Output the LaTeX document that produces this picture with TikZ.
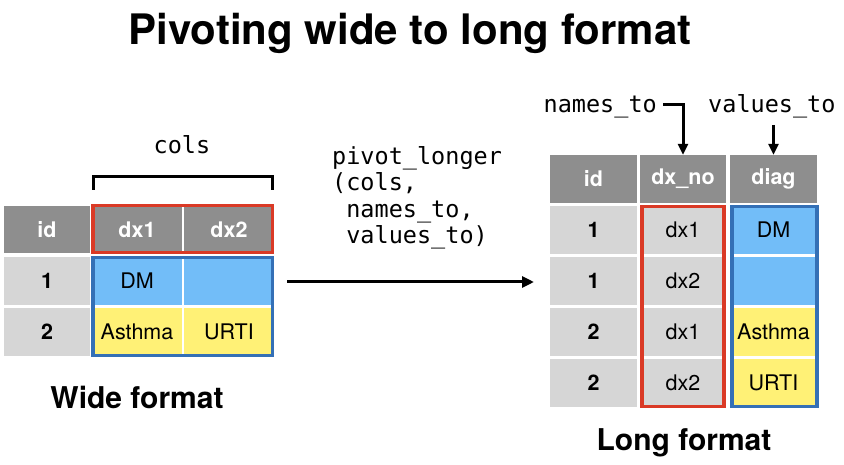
\documentclass[tikz,border=0pt]{standalone}
\usepackage{fontspec}
\setmainfont{TeX Gyre Heros}
\newfontfamily\monofam{DejaVu Sans Mono}
\usetikzlibrary{arrows.meta}
\definecolor{hdrgray}{RGB}{142,142,142}
\definecolor{ltgray}{RGB}{214,214,214}
\definecolor{cellblue}{RGB}{114,189,248}
\definecolor{cellyellow}{RGB}{255,241,118}
\definecolor{bordred}{RGB}{218,58,38}
\definecolor{bordblue}{RGB}{52,112,182}
\tikzset{
  cell/.style={inner sep=0pt, minimum height=48pt, font=\fontsize{21.5}{24}\selectfont},
  hcell/.style={cell, fill=hdrgray, text=white, font=\bfseries\fontsize{21.5}{24}\selectfont, minimum height=47pt},
  idcell/.style={cell, fill=ltgray, font=\bfseries\fontsize{21.5}{24}\selectfont},
  gcell/.style={cell, fill=ltgray},
  bcell/.style={cell, fill=cellblue},
  ycell/.style={cell, fill=cellyellow},
  monotext/.style={inner sep=0pt, font=\monofam\fontsize{23.5}{26.5}\selectfont},
  redframe/.style={draw=bordred, line width=3.6pt},
  blueframe/.style={draw=bordblue, line width=3.6pt},
  conn/.style={line width=3pt, -{Triangle[length=11pt,width=10pt]}},
  caption/.style={inner sep=0pt, font=\bfseries\fontsize{30}{33}\selectfont}
}
\begin{document}
\begin{tikzpicture}[x=1pt,y=-1pt]
\useasboundingbox (0,0) rectangle (844,465);
% title
\node[inner sep=0pt, font=\bfseries\fontsize{42}{46}\selectfont] (title) at (410,33) {Pivoting wide to long format};
% ---------- wide table ----------
\node[hcell, minimum width=86pt] (wh0) at (47,229.5) {id};
\node[hcell, minimum width=90pt] (wh1) at (137,229.5) {dx1};
\node[hcell, minimum width=90pt] (wh2) at (229,229.5) {dx2};
\node[idcell, minimum width=86pt] (wa0) at (47,281) {1};
\node[bcell, minimum width=90pt] (wa1) at (137,281) {DM};
\node[bcell, minimum width=90pt] (wa2) at (229,281) {};
\node[idcell, minimum width=86pt] (wb0) at (47,332) {2};
\node[ycell, minimum width=90pt] (wb1) at (137,332) {Asthma};
\node[ycell, minimum width=90pt] (wb2) at (229,332) {URTI};
\draw[redframe] (93,205.5) rectangle (272.5,252.5);
\draw[blueframe] (93,257.5) rectangle (272.5,355.5);
% cols bracket
\node[monotext] (cols) at (182,145) {cols};
\coordinate (bl) at (93,190);
\coordinate (br) at (272,190);
\draw[line width=3pt] (bl) -- ++(0,-13) -| (br);
\node[caption] (wide) at (137,397) {Wide format};
% ---------- middle ----------
\node[monotext, align=left, anchor=north west] (fn) at (332,146)
  {pivot\_longer\\(cols,\\\phantom{(}names\_to,\\\phantom{(}values\_to)};
\coordinate (arrS) at (287,282);
\coordinate (arrE) at (534,282);
\draw[line width=3pt, -{Triangle[length=12pt,width=11pt]}] (arrS) -- (arrE);
% ---------- long table ----------
\node[hcell, minimum width=87pt, minimum height=48pt] (lh0) at (593.5,179) {id};
\node[hcell, minimum width=86pt, minimum height=48pt] (lh1) at (683,179) {dx\_no};
\node[hcell, minimum width=87pt, minimum height=48pt] (lh2) at (773.5,179) {diag};
\node[idcell, minimum width=87pt] (l10) at (593.5,230) {1};
\node[gcell, minimum width=86pt] (l11) at (683,230) {dx1};
\node[bcell, minimum width=87pt] (l12) at (773.5,230) {DM};
\node[idcell, minimum width=87pt] (l20) at (593.5,281) {1};
\node[gcell, minimum width=86pt] (l21) at (683,281) {dx2};
\node[bcell, minimum width=87pt] (l22) at (773.5,281) {};
\node[idcell, minimum width=87pt] (l30) at (593.5,332) {2};
\node[gcell, minimum width=86pt] (l31) at (683,332) {dx1};
\node[ycell, minimum width=87pt] (l32) at (773.5,332) {Asthma};
\node[idcell, minimum width=87pt] (l40) at (593.5,383) {2};
\node[gcell, minimum width=86pt] (l41) at (683,383) {dx2};
\node[ycell, minimum width=87pt] (l42) at (773.5,383) {URTI};
\draw[redframe] (642,206.5) rectangle (724,406.5);
\draw[blueframe] (732,206.5) rectangle (817,406.5);
% labels
\node[monotext, anchor=base east] (nt) at (657,113) {names\_to};
\node[monotext, anchor=base west] (vt) at (708,113) {values\_to};
\coordinate (ntc) at (663,105);
\coordinate (vtc) at (773.5,125);
\draw[conn] (ntc) -| (lh1.north);
\draw[conn] (vtc) -- (lh2.north);
\node[caption] (long) at (684,443) {Long format};
\end{tikzpicture}
\end{document}
